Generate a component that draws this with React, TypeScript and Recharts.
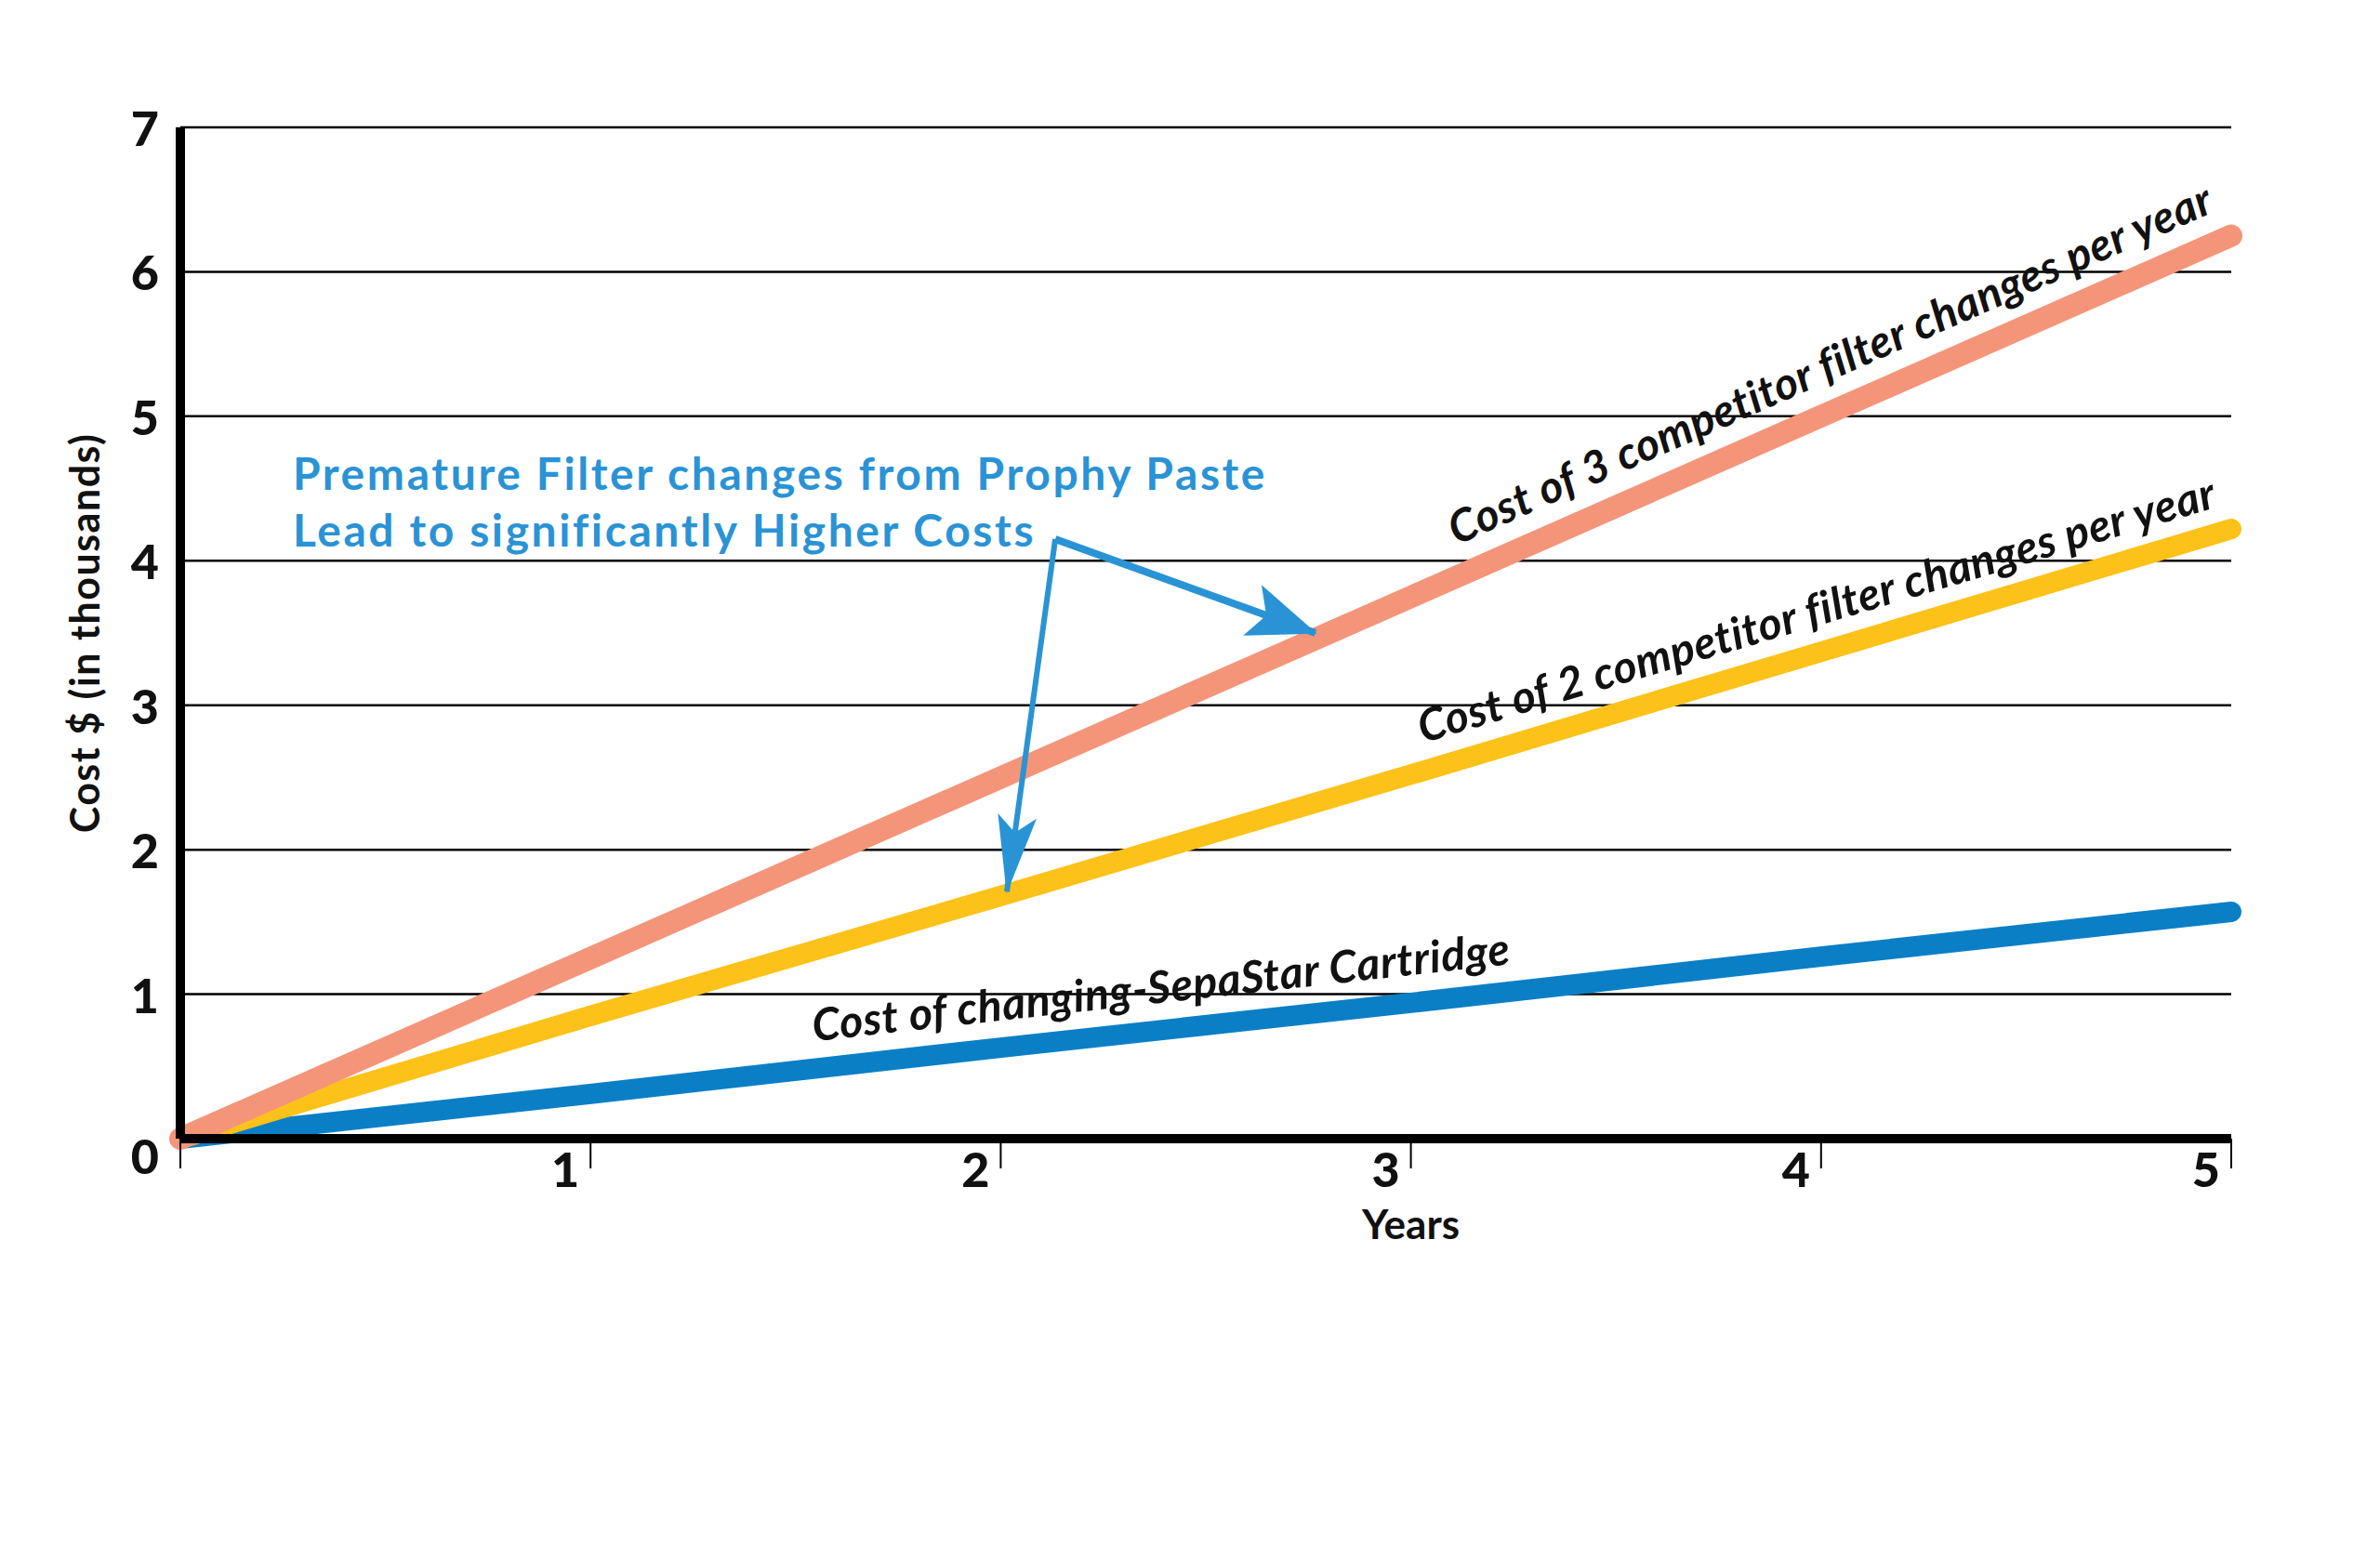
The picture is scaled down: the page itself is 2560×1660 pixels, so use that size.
import { LineChart, Line, XAxis, YAxis, CartesianGrid, ReferenceLine, ReferenceDot } from 'recharts';

const years = [0, 1, 2, 3, 4, 5];
const threeChanges = [0, 1.25, 2.5, 3.75, 5.0, 6.25];
const twoChanges = [0, 0.85, 1.68, 2.52, 3.37, 4.22];
const sepaStar = [0, 0.31, 0.63, 0.94, 1.26, 1.57];
const yTicks = [0, 1, 2, 3, 4, 5, 6, 7];

const labelThree = 'Cost of 3 competitor filter changes per year';
const labelTwo = 'Cost of 2 competitor filter changes per year';
const labelSepa = 'Cost of changing-SepaStar Cartridge';
const noteLines = ['Premature Filter changes from Prophy Paste', 'Lead to significantly Higher Costs'];

const data = years.map((y, i) => ({
  year: y,
  three: threeChanges[i],
  two: twoChanges[i],
  sepa: sepaStar[i],
}));

const FONT = 'Lato, "Open Sans", sans-serif';
const W = 2560;
const H = 1660;

// label drawn along a line, using the rendered points for the angle
function lineLabel(text: string, atIndex: number, dx: number, dy: number, anchor: 'start' | 'end' | 'middle') {
  return (p: any) => {
    const key = `dot-${p.dataKey}-${p.index}`;
    if (p.index !== atIndex || !p.points) return <g key={key} />;
    const pts = p.points;
    const a = pts[0];
    const b = pts[pts.length - 1];
    const angle = (Math.atan2(b.y - a.y, b.x - a.x) * 180) / Math.PI;
    return (
      <g key={key} transform={`translate(${p.cx},${p.cy}) rotate(${angle})`}>
        <text x={dx} y={dy} textAnchor={anchor} fontFamily={FONT} fontStyle="italic" fontWeight={700} fontSize={48} letterSpacing={0.6} fill="#111">
          {text}
        </text>
      </g>
    );
  };
}

const YTick = (props: any) => {
  const { x, y, payload } = props;
  return (
    <text x={x} y={y + (payload.value === 0 ? 18 : 0)} textAnchor="end" dominantBaseline="central" fontFamily={FONT} fontWeight={900} fontSize={52} fill="#111">
      {payload.value}
    </text>
  );
};

const XTick = (props: any) => {
  const { x, y, payload } = props;
  if (payload.value === 0) return <g />;
  return (
    <text x={x - 12} y={y + 20} textAnchor="end" fontFamily={FONT} fontWeight={900} fontSize={52} fill="#111">
      {payload.value}
    </text>
  );
};

const Note = (props: any) => {
  const { cx, cy } = props;
  return (
    <g>
      {noteLines.map((t, i) => (
        <text key={t} x={cx} y={cy + i * 61} fontFamily={FONT} fontWeight={700} fontSize={48} letterSpacing={2.6} fill="#2A93D5">
          {t}
        </text>
      ))}
    </g>
  );
};

export default function App() {
  return (
    <div style={{ position: 'absolute', left: 0, top: 0, width: W, height: H, background: '#fff' }}>
      <LineChart width={W} height={H} data={data} margin={{ top: 137, right: 160, bottom: 315, left: 0 }}>
        <defs>
          <marker id="headBig" viewBox="0 0 74 58" refX={72} refY={29} markerWidth={74} markerHeight={58} markerUnits="userSpaceOnUse" orient="auto">
            <path d="M0,0 L74,29 L0,58 L16,29 Z" fill="#2A93D5" />
          </marker>
          <marker id="headThin" viewBox="0 0 84 42" refX={82} refY={21} markerWidth={84} markerHeight={42} markerUnits="userSpaceOnUse" orient="auto">
            <path d="M0,0 L84,21 L0,42 L18,21 Z" fill="#2A93D5" />
          </marker>
        </defs>
        <CartesianGrid vertical={false} stroke="#000" strokeWidth={2.5} />
        <XAxis
          dataKey="year"
          type="number"
          domain={[0, 5]}
          ticks={years}
          height={120}
          axisLine={{ stroke: '#000', strokeWidth: 10 }}
          tickLine={{ stroke: '#000', strokeWidth: 2 }}
          tickSize={32}
          tickMargin={0}
          tick={<XTick />}
          label={{
            content: (p: any) => (
              <text x={p.viewBox.x + p.viewBox.width * 0.6} y={1333} textAnchor="middle" fontFamily={FONT} fontWeight={700} fontSize={44} fill="#111">
                Years
              </text>
            ),
          }}
        />
        <YAxis
          type="number"
          domain={[0, 7]}
          ticks={yTicks}
          width={194}
          axisLine={{ stroke: '#000', strokeWidth: 10 }}
          tickLine={false}
          tickSize={0}
          tickMargin={23}
          tick={<YTick />}
          label={{
            content: (p: any) => {
              const cy = p.viewBox.y + p.viewBox.height / 2;
              return (
                <text x={90} y={cy} transform={`rotate(-90, 90, ${cy})`} textAnchor="middle" dominantBaseline="central" fontFamily={FONT} fontWeight={700} fontSize={43} letterSpacing={1.5} fill="#111">
                  Cost $ (in thousands)
                </text>
              );
            },
          }}
        />
        <Line
          dataKey="sepa"
          type="linear"
          stroke="#0A7FC5"
          strokeWidth={22}
          strokeLinecap="round"
          dot={lineLabel(labelSepa, 2, -199, -29, 'start')}
          activeDot={false}
          isAnimationActive={false}
        />
        <Line
          dataKey="two"
          type="linear"
          stroke="#FDC219"
          strokeWidth={22}
          strokeLinecap="round"
          dot={lineLabel(labelTwo, 5, -6, -27, 'end')}
          activeDot={false}
          isAnimationActive={false}
        />
        <Line
          dataKey="three"
          type="linear"
          stroke="#F4957A"
          strokeWidth={24}
          strokeLinecap="round"
          dot={lineLabel(labelThree, 5, -4, -31, 'end')}
          activeDot={false}
          isAnimationActive={false}
        />
        <ReferenceLine segment={[{ x: 2.133, y: 4.15 }, { x: 2.767, y: 3.5 }]} stroke="#2A93D5" strokeWidth={8} markerEnd="url(#headBig)" />
        <ReferenceLine segment={[{ x: 2.133, y: 4.15 }, { x: 2.015, y: 1.71 }]} stroke="#2A93D5" strokeWidth={6} markerEnd="url(#headThin)" />
        <ReferenceDot x={0.274} y={4.49} r={0} shape={<Note />} />
      </LineChart>
    </div>
  );
}
